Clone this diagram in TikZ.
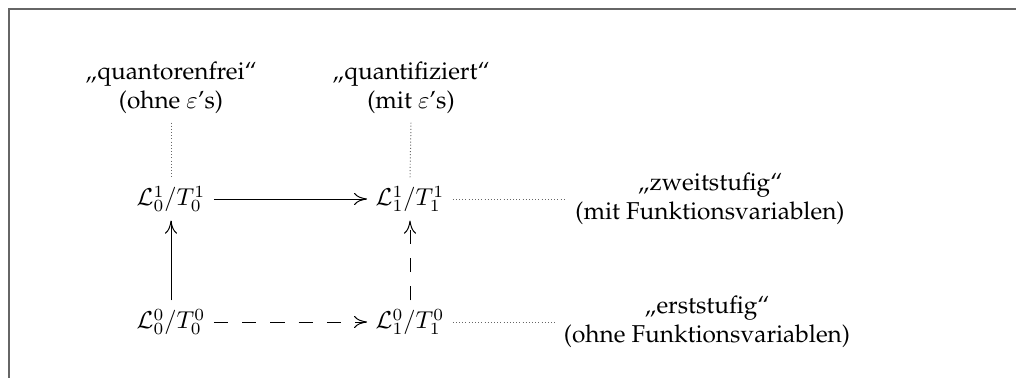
\documentclass[tikz,border=0pt]{standalone}
\usepackage[T1]{fontenc}
\usepackage{palatino}
\usetikzlibrary{arrows.meta}
\tikzset{
  framestyle/.style={draw=black!60, line width=0.75pt},
  obj/.style={inner sep=3.3pt},
  lab/.style={align=center, inner sep=3.3pt},
  tipstyle/.style={-{Computer Modern Rightarrow[length=5.4pt,width=5pt]}, line width=0.4pt},
  dashline/.style={dash pattern=on 5.8pt off 5.8pt},
  dotline/.style={draw=black!60, line width=0.4pt, dash pattern=on 0.4pt off 0.9pt}
}
\begin{document}
\begin{tikzpicture}[x=0.41pt,y=-0.41pt]
\useasboundingbox (0,0) rectangle (1016,378);
\draw[framestyle] (9,378) -- (9,9) -- (1016,9);
\node[obj] (A) at (171,199) {$\mathcal{L}^1_0/T^1_0$};
\node[obj] (B) at (410,199) {$\mathcal{L}^1_1/T^1_1$};
\node[obj] (C) at (171,322) {$\mathcal{L}^0_0/T^0_0$};
\node[obj] (D) at (410,322) {$\mathcal{L}^0_1/T^0_1$};
\node[lab] (qf) at (171,88) {\quotedblbase quantorenfrei\textquotedblleft\\(ohne $\varepsilon$'s)};
\node[lab] (qt) at (411,88) {\quotedblbase quantifiziert\textquotedblleft\\(mit $\varepsilon$'s)};
\node[lab] (zw) at (710,199) {\quotedblbase zweitstufig\textquotedblleft\\(mit Funktionsvariablen)};
\node[lab] (er) at (707,322) {\quotedblbase erststufig\textquotedblleft\\(ohne Funktionsvariablen)};
\draw[tipstyle] (A) -- (B);
\draw[tipstyle, dashline] (C) -- (D);
\draw[tipstyle] (C) -- (A);
\draw[tipstyle, dashline] (D) -- (B);
\draw[dotline] (qf.south) -- (A.north);
\draw[dotline] (qt.south) -- (B.north);
\draw[dotline] (B) -- (zw.west);
\draw[dotline] (D) -- (er.west);
\end{tikzpicture}
\end{document}
